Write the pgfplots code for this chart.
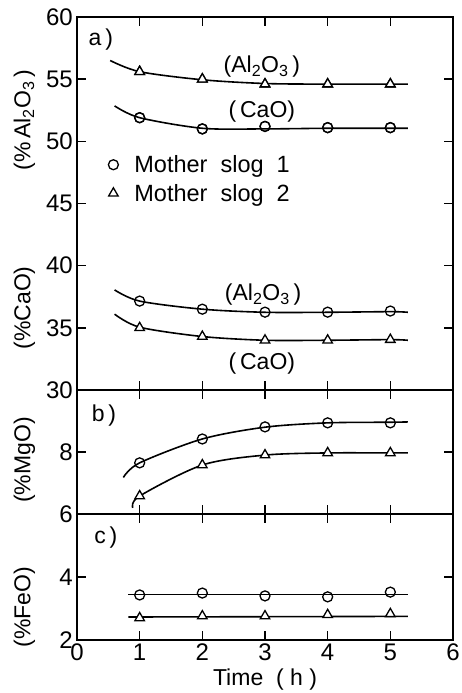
\documentclass[border=0pt]{standalone}
\usepackage{pgfplots}
\pgfplotsset{compat=1.18}
\usepackage{fontspec}
\setmainfont{Liberation Sans}

\pgfplotsset{
  panel/.style={
    scale only axis, width=376pt, xmin=0, xmax=6, clip=false,
    tick align=inside, major tick length=9pt,
    axis line style={line width=2pt},
    every tick/.style={black, line width=1.4pt},
    ticklabel style={font=\fontsize{24}{24}\selectfont, inner sep=1pt},
    yticklabel style={xshift=-3pt},
    /pgf/number format/assume math mode=true,
    xtick={1,2,3,4,5},
  },
  fit/.style={black, line width=1.6pt, smooth, no marks},
  slag1/.style={only marks, mark=o, mark size=5pt, mark options={fill=white, line width=1.3pt}, black},
  slag2/.style={only marks, mark=triangle*, mark size=5.5pt, mark options={fill=white, line width=1.3pt}, black},
}
\tikzset{lbl/.style={font=\fontsize{23}{23}\selectfont}}
\newcommand{\lf}{\fontsize{23}{23}\selectfont}
\newcommand{\legf}{\fontsize{23.5}{23.5}\selectfont}

\begin{document}
\begin{tikzpicture}
\useasboundingbox (0pt,0pt) rectangle (461pt,693pt);

% ---------------- a) Al2O3 and CaO ----------------
\begin{axis}[panel, at={(77pt,303pt)}, anchor=south west, height=373pt,
  ymin=30, ymax=60, ytick={30,35,...,60}, xticklabels={},
  legend style={draw=none, fill=none, at={(0.075,0.64)}, anchor=north west,
    row sep=6pt, font=\legf,
    /tikz/every odd column/.append style={column sep=14pt}},
  legend cell align=left]
  % legend entries
  \addplot[slag1] coordinates {(1,51.9) (2,51.0) (3,51.2) (4,51.1) (5,51.1)};
  \addlegendentry{Mother\ \ slog\ \ 1}
  \addplot[slag2] coordinates {(1,55.6) (2,55.0) (3,54.6) (4,54.6) (5,54.6)};
  \addlegendentry{Mother\ \ slog\ \ 2}
  % fitted curves, Al2O3 scale
  \addplot[fit, forget plot] coordinates {(0.53,56.5) (1,55.6) (2,54.95) (3,54.65) (4,54.6) (5,54.6) (5.28,54.6)};
  \addplot[fit, forget plot] coordinates {(0.6,52.85) (1,51.9) (2,51.05) (3,51.0) (4,51.05) (5,51.05) (5.28,51.05)};
  % fitted curves, CaO scale
  \addplot[fit, forget plot] coordinates {(0.6,38.05) (1,37.15) (2,36.5) (3,36.25) (4,36.25) (5,36.3) (5.28,36.25)};
  \addplot[fit, forget plot] coordinates {(0.6,36.1) (1,35.05) (2,34.3) (3,34.0) (4,34.0) (5,34.05) (5.28,34.0)};
  % data points drawn on top of the curves
  \addplot[slag1, forget plot] coordinates {(1,51.9) (2,51.0) (3,51.2) (4,51.1) (5,51.1)};
  \addplot[slag2, forget plot] coordinates {(1,55.6) (2,55.0) (3,54.6) (4,54.6) (5,54.6)};
  \addplot[slag1, forget plot] coordinates {(1,37.15) (2,36.5) (3,36.26) (4,36.26) (5,36.35)};
  \addplot[slag2, forget plot] coordinates {(1,35.0) (2,34.3) (3,34.0) (4,34.0) (5,34.05)};
  % annotations
  \node[lbl] at (axis cs:0.38,58.15) {a\,)};
  \node[lbl] at (axis cs:2.95,55.98) {(Al\textsubscript{2}O\textsubscript{3}\,)};
  \node[lbl] at (axis cs:2.95,52.36) {(\,CaO)};
  \node[lbl] at (axis cs:2.97,37.64) {(Al\textsubscript{2}O\textsubscript{3}\,)};
  \node[lbl] at (axis cs:2.95,32.16) {(\,CaO)};
  \node[lbl, rotate=90] at (axis cs:-0.84,51.7) {(\%\,Al\textsubscript{2}O\textsubscript{3}\,)};
  \node[lbl, rotate=90] at (axis cs:-0.84,36.6) {(\%CaO)};
\end{axis}

% ---------------- b) MgO ----------------
\begin{axis}[panel, at={(77pt,179pt)}, anchor=south west, height=124pt,
  ymin=6, ymax=10, ytick={6,8}, xticklabels={}]
  \addplot[fit] coordinates {(0.74,7.18) (1,7.65) (2,8.42) (3,8.8) (4,8.94) (5,8.96) (5.28,8.97)};
  \addplot[fit] coordinates {(0.89,6.2) (1,6.58) (2,7.58) (3,7.9) (4,7.97) (5,7.97) (5.28,7.97)};
  \addplot[slag1] coordinates {(1,7.65) (2,8.42) (3,8.81) (4,8.94) (5,8.94)};
  \addplot[slag2] coordinates {(1,6.58) (2,7.58) (3,7.9) (4,7.97) (5,7.97)};
  \node[lbl] at (axis cs:0.43,9.19) {b\,)};
  \node[lbl, rotate=90] at (axis cs:-0.84,7.74) {(\%MgO)};
\end{axis}

% ---------------- c) FeO ----------------
\begin{axis}[panel, at={(77pt,53pt)}, anchor=south west, height=126pt,
  ymin=2, ymax=6, ytick={2,4}, xtick={0,1,...,6},
  xticklabel style={yshift=-3pt},
  xlabel={Time\ \ (\ h\ )}, xlabel style={font=\lf, inner sep=0pt, yshift=-6pt}]
  \addplot[fit, sharp plot] coordinates {(0.82,3.45) (5.28,3.45)};
  \addplot[fit, sharp plot] coordinates {(0.82,2.73) (5.28,2.75)};
  \addplot[slag1] coordinates {(1,3.43) (2,3.49) (3,3.4) (4,3.37) (5,3.52)};
  \addplot[slag2] coordinates {(1,2.7) (2,2.76) (3,2.76) (4,2.8) (5,2.83)};
  \node[lbl] at (axis cs:0.46,5.24) {c\,)};
  \node[lbl, rotate=90] at (axis cs:-0.84,3.05) {(\%FeO)};
\end{axis}
\end{tikzpicture}
\end{document}
